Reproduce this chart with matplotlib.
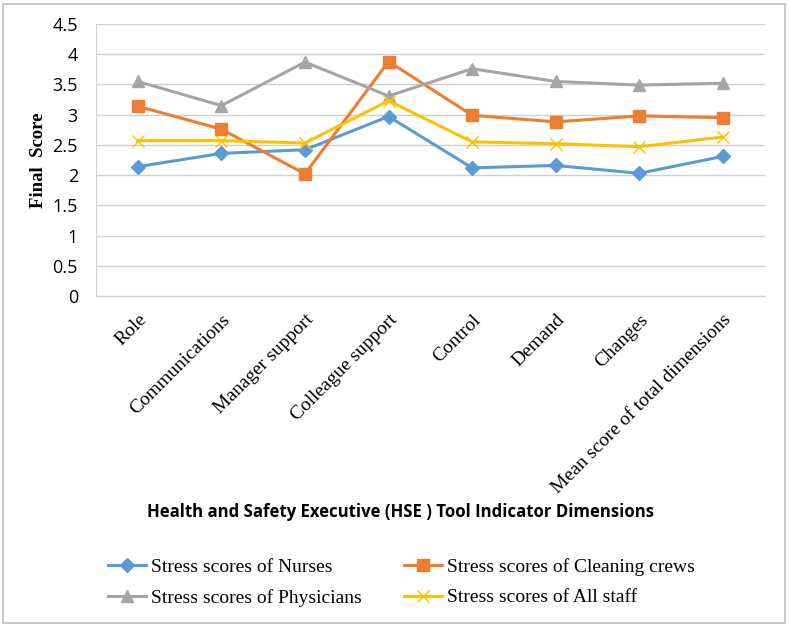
import matplotlib
matplotlib.use('Agg')
import matplotlib.pyplot as plt
from matplotlib.patches import Rectangle

# Data
dimensions = ['Role', 'Communications', 'Manager support', 'Colleague support',
              'Control', 'Demand', 'Changes', 'Mean score of total dimensions']
nurses = [2.14, 2.36, 2.42, 2.97, 2.12, 2.16, 2.03, 2.31]
cleaning = [3.14, 2.76, 2.02, 3.88, 2.99, 2.88, 2.98, 2.95]
physicians = [3.55, 3.15, 3.87, 3.31, 3.76, 3.55, 3.49, 3.52]
all_staff = [2.57, 2.57, 2.53, 3.23, 2.55, 2.52, 2.47, 2.63]
y_ticks = [0, 0.5, 1, 1.5, 2, 2.5, 3, 3.5, 4, 4.5]

fig = plt.figure(figsize=(7.9, 6.29), dpi=100)
ax = fig.add_axes([0.1215, 0.5294, 0.8465, 0.4324])

x = list(range(len(dimensions)))
l1, = ax.plot(x, nurses, color='#5B9BD5', lw=2.2, marker='D', ms=7, label='Stress scores of Nurses')
l2, = ax.plot(x, cleaning, color='#ED7D31', lw=2.2, marker='s', ms=8, label='Stress scores of Cleaning crews')
l3, = ax.plot(x, physicians, color='#A5A5A5', lw=2.2, marker='^', ms=8, label='Stress scores of Physicians')
l4, = ax.plot(x, all_staff, color='#FFC000', lw=2.2, marker='x', ms=8, mew=1, label='Stress scores of All staff')

ax.set_xlim(-0.5, len(dimensions) - 0.5)
ax.set_ylim(0, 4.5)
ax.set_yticks(y_ticks)
ax.set_yticklabels([f'{v:g}' for v in y_ticks], fontsize=13, family='Open Sans')
ax.yaxis.grid(True, color='#D0D0D0', lw=1)
ax.set_axisbelow(True)
ax.tick_params(axis='y', length=0, pad=13)
ax.tick_params(axis='x', length=0, pad=11)
ax.set_xticks(x)
ax.set_xticklabels(dimensions, rotation=45, ha='right', va='top', rotation_mode='anchor',
                   fontsize=14, family='Liberation Serif')
for s in ['top', 'right']:
    ax.spines[s].set_visible(False)
for s in ['left', 'bottom']:
    ax.spines[s].set_color('#D0D0D0')

ax.set_ylabel('Final  Score', fontsize=13.5, family='Liberation Serif', fontweight='bold', labelpad=4)
fig.text(0.507, 0.186, 'Health and Safety Executive (HSE ) Tool Indicator Dimensions',
         ha='center', va='center', fontsize=12.1, fontweight='bold', family='Open Sans')

# row-wise order like the reference: Nurses, Cleaning / Physicians, All staff
fig.legend([l1, l3, l2, l4], [l.get_label() for l in (l1, l3, l2, l4)],
           loc='center', bbox_to_anchor=(0.508, 0.074), ncol=2, frameon=False,
           prop={'family': 'Liberation Serif', 'size': 14}, handlelength=1.95,
           handletextpad=0.26, columnspacing=2.15, labelspacing=0.65, borderpad=0)

fig.patches.append(Rectangle((0.004, 0.01), 0.99, 0.983, transform=fig.transFigure,
                             fill=False, ec='#BFBFBF', lw=1.2))

fig.savefig('out.png', dpi=100)
